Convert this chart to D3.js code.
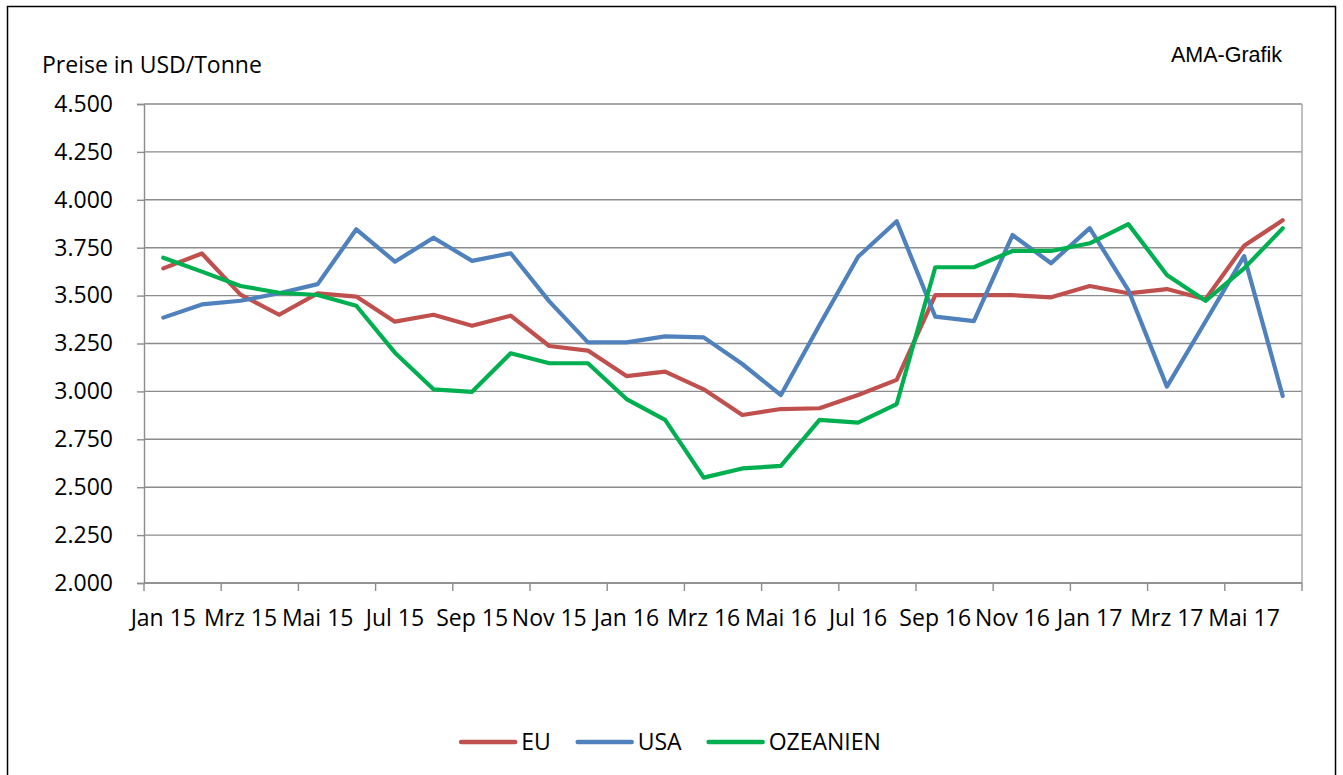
<!DOCTYPE html>
<html>
<head>
<meta charset="utf-8">
<script src="https://d3js.org/d3.v7.min.js"></script>
<style>
  body { margin: 0; background: #fff; }
  text { font-family: "Open Sans", "Liberation Sans", sans-serif; fill: #000; }
</style>
</head>
<body>
<svg id="chart" width="1343" height="775"></svg>
<script>
// months Jan 15 .. Jun 17
var months = ["Jan 15", "Feb 15", "Mrz 15", "Apr 15", "Mai 15", "Jun 15", "Jul 15", "Aug 15", "Sep 15", "Okt 15", "Nov 15", "Dez 15",
              "Jan 16", "Feb 16", "Mrz 16", "Apr 16", "Mai 16", "Jun 16", "Jul 16", "Aug 16", "Sep 16", "Okt 16", "Nov 16", "Dez 16",
              "Jan 17", "Feb 17", "Mrz 17", "Apr 17", "Mai 17", "Jun 17"];

var euValues  = [3642, 3720, 3505, 3400, 3512, 3495, 3364, 3400, 3343, 3395, 3237, 3213,
                 3080, 3103, 3011, 2877, 2908, 2912, 2981, 3060, 3503, 3503, 3502, 3491,
                 3550, 3512, 3534, 3481, 3760, 3893];
var usaValues = [3385, 3454, 3473, 3512, 3560, 3846, 3677, 3802, 3681, 3721, 3470, 3256,
                 3256, 3287, 3282, 3143, 2981, 3347, 3703, 3888, 3390, 3367, 3816, 3669,
                 3852, 3529, 3025, 3365, 3706, 2976];
var ozValues  = [3698, 3625, 3550, 3515, 3503, 3447, 3202, 3011, 2998, 3199, 3147, 3147,
                 2960, 2851, 2550, 2598, 2611, 2851, 2837, 2934, 3648, 3648, 3733, 3733,
                 3773, 3873, 3608, 3473, 3642, 3851];

var seriesNames = ["EU", "USA", "OZEANIEN"];
var seriesColors = ["#C0504D", "#4F81BD", "#00B050"];
var yTicks = [2000, 2250, 2500, 2750, 3000, 3250, 3500, 3750, 4000, 4250, 4500];

var series = [euValues, usaValues, ozValues].map(function(vals, i) {
    return { name: seriesNames[i], color: seriesColors[i], values: vals };
});

var plot = { left: 144, right: 1302, top: 104, bottom: 583 };

var de = d3.formatLocale({ decimal: ",", thousands: ".", grouping: [3], currency: ["", " €"] });
var fmt = de.format(",.0f");

var svg = d3.select("#chart");

// outer frame
svg.append("rect")
    .attr("x", 7.5).attr("y", 6.5)
    .attr("width", 1328).attr("height", 780)
    .attr("fill", "none").attr("stroke", "#000").attr("stroke-width", 1.5);

var x = d3.scaleBand().domain(months).range([plot.left, plot.right]).padding(0);
var y = d3.scaleLinear().domain([2000, 4500]).range([plot.bottom, plot.top]);

var xc = function(m) { return x(m) + x.bandwidth() / 2; };

// gridlines
svg.append("g").selectAll("line")
    .data(yTicks)
  .enter()
    .append("line")
    .attr("x1", plot.left).attr("x2", plot.right)
    .attr("y1", function(d) { return y(d); })
    .attr("y2", function(d) { return y(d); })
    .attr("stroke", "#8C8C8C").attr("stroke-width", 1.4);

// right border of plot area
svg.append("line")
    .attr("x1", plot.right).attr("x2", plot.right)
    .attr("y1", plot.top).attr("y2", plot.bottom)
    .attr("stroke", "#A6A6A6").attr("stroke-width", 1.4);

// y axis
var yAxis = svg.append("g")
    .attr("transform", "translate(" + plot.left + ",0)")
    .call(d3.axisLeft(y).tickValues(yTicks).tickFormat(fmt).tickSize(7).tickPadding(24));
yAxis.select(".domain").attr("stroke", "#8C8C8C").attr("stroke-width", 1.4);
yAxis.selectAll(".tick line").attr("stroke", "#8C8C8C").attr("stroke-width", 1.4);
yAxis.selectAll("text").style("font-size", "23px").attr("fill", "#000");

// x axis: tick marks on category boundaries, labels on every second month
var boundaries = months.filter(function(d, i) { return i % 2 === 0; })
    .map(function(m) { return x(m); }).concat([plot.right]);

svg.append("line")
    .attr("x1", plot.left).attr("x2", plot.right)
    .attr("y1", plot.bottom).attr("y2", plot.bottom)
    .attr("stroke", "#8C8C8C").attr("stroke-width", 1.4);

svg.append("g").selectAll("line")
    .data(boundaries)
  .enter()
    .append("line")
    .attr("x1", function(d) { return d; }).attr("x2", function(d) { return d; })
    .attr("y1", plot.bottom).attr("y2", plot.bottom + 8)
    .attr("stroke", "#8C8C8C").attr("stroke-width", 1.4);

svg.append("g").selectAll("text")
    .data(months.filter(function(d, i) { return i % 2 === 0; }))
  .enter()
    .append("text")
    .attr("x", xc)
    .attr("y", 626)
    .attr("text-anchor", "middle")
    .style("font-size", "23px")
    .text(function(d) { return d; });

// lines
var line = d3.line()
    .x(function(d, i) { return xc(months[i]); })
    .y(function(d) { return y(d); });

svg.append("g").selectAll("path")
    .data(series)
  .enter()
    .append("path")
    .attr("d", function(s) { return line(s.values); })
    .attr("fill", "none")
    .attr("stroke", function(s) { return s.color; })
    .attr("stroke-width", 4.2)
    .attr("stroke-linejoin", "round")
    .attr("stroke-linecap", "round");

// titles
svg.append("text")
    .attr("x", 42).attr("y", 73)
    .style("font-size", "23px")
    .text("Preise in USD/Tonne");

svg.append("text")
    .attr("x", 1282).attr("y", 62)
    .attr("text-anchor", "end")
    .style("font-family", "'Liberation Sans', Arial, sans-serif")
    .style("font-size", "21.5px")
    .text("AMA-Grafik");

// legend
var legend = svg.append("g");
var lx = 0;
series.forEach(function(s, i) {
    var g = legend.append("g").attr("transform", "translate(" + lx + ",0)");
    g.append("line")
        .attr("x1", 0).attr("x2", 54)
        .attr("y1", 0).attr("y2", 0)
        .attr("stroke", s.color).attr("stroke-width", 4.5)
        .attr("stroke-linecap", "round");
    var t = g.append("text")
        .attr("x", 60).attr("y", 8)
        .style("font-size", "23px")
        .text(s.name);
    lx += 60 + t.node().getComputedTextLength() + (i < series.length - 1 ? 27 : 0);
});
legend.attr("transform", "translate(" + (671 - lx / 2) + ",742)");
</script>
</body>
</html>
